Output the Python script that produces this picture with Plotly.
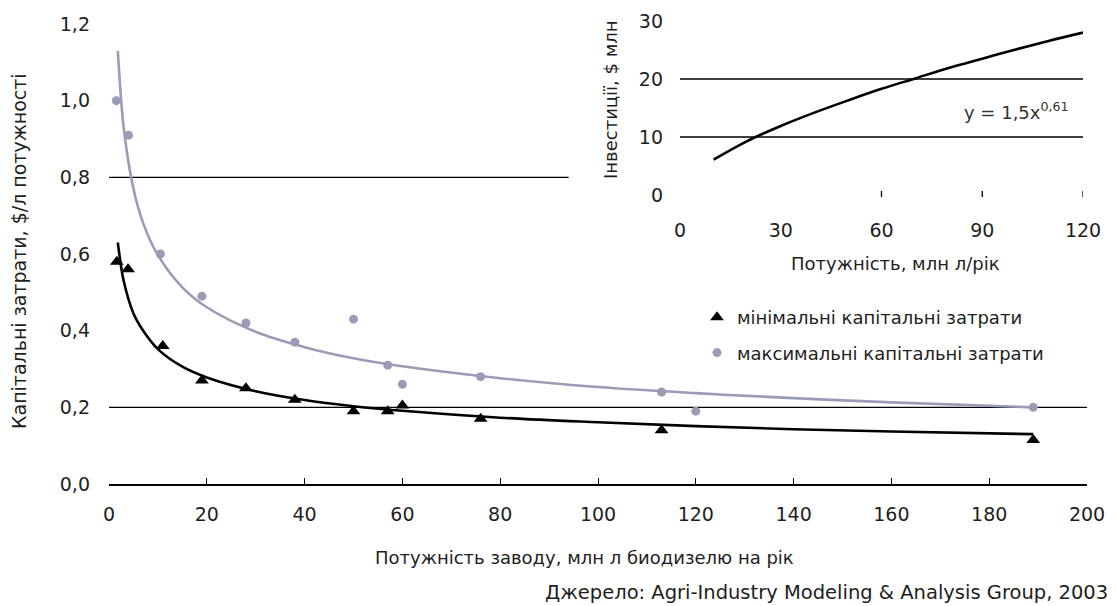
import plotly.graph_objects as go

W, H = 1116, 606

# ---- main chart data ----
cap_min_x = [1.6, 3.9, 11, 19, 28, 38, 50, 57, 60, 76, 113, 189]
cap_min_y = [0.58, 0.56, 0.36, 0.27, 0.25, 0.22, 0.19, 0.19, 0.205, 0.17, 0.14, 0.115]
cap_max_x = [1.5, 4, 10.5, 19, 28, 38, 50, 57, 60, 76, 113, 120, 189]
cap_max_y = [1.0, 0.91, 0.6, 0.49, 0.42, 0.37, 0.43, 0.31, 0.26, 0.28, 0.24, 0.19, 0.2]

# trend lines
fit_x = [1.8, 2, 3, 5, 7, 10, 15, 20, 30, 40, 50, 60, 80, 100, 120, 140, 160, 189]
fit_min_y = [0.63, 0.61, 0.53, 0.445, 0.40, 0.352, 0.306, 0.278, 0.242, 0.219, 0.203,
             0.191, 0.173, 0.161, 0.151, 0.143, 0.137, 0.13]
fit_max_y = [1.13, 1.09, 0.93, 0.77, 0.68, 0.597, 0.513, 0.461, 0.397, 0.357, 0.328,
             0.307, 0.276, 0.253, 0.237, 0.224, 0.213, 0.2]

x_ticks = [0, 20, 40, 60, 80, 100, 120, 140, 160, 180, 200]
y_ticks = [0.0, 0.2, 0.4, 0.6, 0.8, 1.0, 1.2]
y_tick_text = ["0,0", "0,2", "0,4", "0,6", "0,8", "1,0", "1,2"]

# ---- inset data ----
inv_x = [10, 20, 30, 40, 50, 60, 70, 80, 90, 100, 110, 120]
inv_y = [6.1, 9.3, 11.9, 14.2, 16.3, 18.3, 20.1, 21.9, 23.5, 25.1, 26.6, 28.0]
inset_x_ticks = [0, 30, 60, 90, 120]
inset_y_ticks = [0, 10, 20, 30]

GRAY = "#9b9bb6"
TXT = "#1e1e1e"
FONT = "DejaVu Sans, Liberation Sans, Arial, sans-serif"

def px(x):
    return x / W

def py(y):
    return 1 - y / H

fig = go.Figure()

fig.add_trace(go.Scatter(x=fit_x, y=fit_max_y, mode="lines",
                         line=dict(color=GRAY, width=2.6, shape="spline"),
                         showlegend=False, hoverinfo="skip", xaxis="x", yaxis="y"))
fig.add_trace(go.Scatter(x=fit_x, y=fit_min_y, mode="lines",
                         line=dict(color="black", width=2.6, shape="spline"),
                         showlegend=False, hoverinfo="skip", xaxis="x", yaxis="y"))
fig.add_trace(go.Scatter(x=cap_min_x, y=cap_min_y, mode="markers",
                         name="мінімальні капітальні затрати",
                         marker=dict(symbol="triangle-up", size=12, color="black"),
                         legendgroup="a", xaxis="x", yaxis="y"))
fig.add_trace(go.Scatter(x=cap_max_x, y=cap_max_y, mode="markers",
                         name="максимальні капітальні затрати",
                         marker=dict(symbol="circle", size=9, color=GRAY),
                         legendgroup="b", xaxis="x", yaxis="y"))

fig.add_trace(go.Scatter(x=inv_x, y=inv_y, mode="lines",
                         line=dict(color="black", width=2.6, shape="spline"),
                         showlegend=False, hoverinfo="skip", xaxis="x2", yaxis="y2"))

shapes = []
# main gridlines
shapes.append(dict(type="line", xref="x", yref="y", x0=0, x1=94, y0=0.8, y1=0.8,
                   line=dict(color="black", width=1.3), layer="below"))
shapes.append(dict(type="line", xref="x", yref="y", x0=0, x1=200, y0=0.2, y1=0.2,
                   line=dict(color="black", width=1.3), layer="below"))
# inset gridlines
for gv in [10, 20]:
    shapes.append(dict(type="line", xref="x2", yref="y2", x0=0, x1=120, y0=gv, y1=gv,
                       line=dict(color="black", width=1.3), layer="below"))
# inset tick marks
for tv in [60, 90, 120]:
    shapes.append(dict(type="line", xref="x2", yref="paper", x0=tv, x1=tv,
                       y0=py(197), y1=py(191), line=dict(color="black", width=1.3)))

def ann(text, x, y, size=19, angle=0, xanchor="center", color=TXT):
    return dict(text=text, x=px(x), y=py(y), xref="paper", yref="paper",
                textangle=angle, showarrow=False, xanchor=xanchor, yanchor="middle",
                font=dict(size=size, color=color))

annotations = [
    ann("Капітальні затрати, $/л потужності", 19, 251, angle=-90),
    ann("Потужність заводу, млн л биодизелю на рік", 584, 557, size=18),
    ann("Джерело: Agri-Industry Modeling &amp; Analysis Group, 2003", 1110, 592,
        size=19.5, xanchor="right"),
    ann("Інвестиції, $ млн", 610, 100, size=18, angle=-90),
    ann("Потужність, млн л/рік", 895, 263, size=18),
    ann("y = 1,5x<sup>0,61</sup>", 1016, 111, size=18, color="#333"),
]

fig.update_layout(
    width=W, height=H, autosize=False,
    margin=dict(l=0, r=0, t=0, b=0, pad=0, autoexpand=False),
    paper_bgcolor="white", plot_bgcolor="rgba(0,0,0,0)",
    font=dict(family=FONT, size=19, color=TXT),
    showlegend=True,
    legend=dict(x=px(697), y=py(299), xanchor="left", yanchor="top",
                bgcolor="rgba(0,0,0,0)", font=dict(size=18, color=TXT),
                traceorder="grouped", tracegroupgap=9),
    xaxis=dict(domain=[px(109), px(1087)], range=[0, 200], tickvals=x_ticks,
               showline=True, linecolor="black", linewidth=1.5, ticks="inside",
               ticklen=6, tickcolor="black", tickwidth=1.3, showgrid=False,
               zeroline=False, ticklabelstandoff=12, anchor="y", automargin=False,
               tickfont=dict(size=19)),
    yaxis=dict(domain=[py(484), py(24)], range=[0, 1.2], tickvals=y_ticks,
               ticktext=y_tick_text, showline=False, showgrid=False, zeroline=False,
               ticklabelstandoff=18, anchor="x", automargin=False,
               tickfont=dict(size=19)),
    xaxis2=dict(domain=[px(680), px(1083)], range=[0, 120], tickvals=inset_x_ticks,
                showline=False, showgrid=False, zeroline=False, ticks="",
                ticklabelstandoff=22, anchor="y2", automargin=False,
                tickfont=dict(size=19)),
    yaxis2=dict(domain=[py(195), py(21)], range=[0, 30], tickvals=inset_y_ticks,
                showline=False, showgrid=False, zeroline=False, ticks="",
                ticklabelstandoff=16, anchor="x2", automargin=False,
                tickfont=dict(size=19)),
    shapes=shapes,
    annotations=annotations,
)

fig.write_html("out.html", post_script="document.body.style.margin='0';")
